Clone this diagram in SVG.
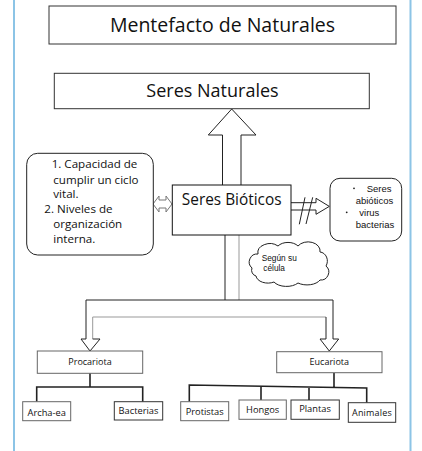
<svg xmlns="http://www.w3.org/2000/svg" width="422" height="451" viewBox="0 0 422 451">
<style>
.box{fill:#fff;stroke:#333;stroke-width:1}
.gbox{fill:#fff;stroke:#666;stroke-width:1}
.t{font-family:"Open Sans","Noto Sans",sans-serif;fill:#111}
.a{font-family:"Liberation Sans",Arial,sans-serif;fill:#111}
.ln{stroke:#222;stroke-width:1;fill:none}
.gl{stroke:#999;stroke-width:1;fill:none}
.tree{stroke:#222;stroke-width:1.6;fill:none}
.blk{fill:#fff;stroke:#222;stroke-width:1}
</style>
<rect width="422" height="451" fill="#fff"/>
<line x1="14" y1="0" x2="14" y2="451" stroke="#8cc4e6" stroke-width="2"/>
<line x1="410.5" y1="0" x2="410.5" y2="451" stroke="#8cc4e6" stroke-width="2"/>

<g id="connectors">
  <!-- up arrow -->
  <path class="blk" d="M222.5,185 V135 H208.3 L231.7,109 L256,135 H241 V185"/>
  <!-- double arrow left -->
  <path d="M153,204 L159,196 V200 H166 V196 L172,204 L166,212 V208 H159 V212 Z" fill="#fff" stroke="#777" stroke-width="1"/>
  <!-- crossed arrow right -->
  <path class="blk" d="M291,202.7 H316 V198.3 L329.3,206.4 L316,214.3 V210 H291"/>
  <line class="ln" x1="299.3" y1="224.3" x2="305" y2="197.3" stroke-width="1.3"/>
  <line class="ln" x1="306" y1="224" x2="312.7" y2="197.3" stroke-width="1.3"/>
  <!-- stem down -->
  <line class="ln" x1="225" y1="235" x2="225" y2="300"/>
  <line class="gl" x1="239" y1="235" x2="239" y2="300"/>
  <!-- bar -->
  <path class="ln" d="M86,339 V300 H333 V339"/>
  <line class="gl" x1="92.7" y1="317" x2="326" y2="317"/>
  <line class="gl" x1="92.7" y1="317" x2="92.7" y2="339"/>
  <line class="ln" x1="326" y1="317" x2="326" y2="339"/>
  <!-- left head -->
  <path class="blk" d="M86,339 H81 L90,351 L100,339 H92.7"/>
  <!-- right head -->
  <path class="blk" d="M326,339 H320 L329.3,351 L338.7,339 H333"/>
  <!-- procariota tree -->
  <path class="tree" d="M90,373 V387 M36.7,401.7 V387 H142.7 V401.7"/>
  <!-- eucariota tree -->
  <path class="tree" d="M334,373 V387.5 M189.3,401.7 V385 L366.7,388 V402.7 M261,386.2 V400 M309,387 V400"/>
</g>

<g id="title">
  <rect class="box" x="49" y="6" width="347" height="38"/>
  <text class="t" x="222.5" y="31.5" font-size="19.5" text-anchor="middle">Mentefacto de Naturales</text>
</g>

<g id="seres-naturales">
  <rect class="box" x="54.3" y="73.3" width="315" height="35.4"/>
  <text class="t" x="212.5" y="96.5" font-size="18" text-anchor="middle">Seres Naturales</text>
</g>

<g id="seres-bioticos">
  <rect fill="#fff" stroke="#111" stroke-width="1" x="172.3" y="185" width="118.7" height="50"/>
  <text class="t" x="231.7" y="205" font-size="15.4" text-anchor="middle">Seres Bióticos</text>
</g>

<g id="caracteristicas">
  <rect fill="#fff" stroke="#222" stroke-width="1" x="26.7" y="153.3" width="126.6" height="101.7" rx="11"/>
  <text class="t" font-size="11.6">
    <tspan x="51.7" y="168.3">1. Capacidad de</tspan>
    <tspan x="53.3" y="184">cumplir un ciclo</tspan>
    <tspan x="53.3" y="198.3">vital.</tspan>
    <tspan x="44.3" y="213.3">2. Niveles de</tspan>
    <tspan x="53.3" y="228.3">organización</tspan>
    <tspan x="53.3" y="243.3">interna.</tspan>
  </text>
</g>

<g id="abioticos">
  <rect fill="#fff" stroke="#222" stroke-width="1" x="330" y="178.3" width="71.7" height="62.7" rx="10"/>
  <circle cx="354" cy="188.3" r="0.9" fill="#222"/>
  <circle cx="346.7" cy="212.3" r="0.9" fill="#222"/>
  <text class="a" font-size="9.5">
    <tspan x="366.7" y="191.7">Seres</tspan>
    <tspan x="355.7" y="204">abióticos</tspan>
    <tspan x="359.3" y="216">virus</tspan>
    <tspan x="355.7" y="228.3">bacterias</tspan>
  </text>
</g>

<g id="segun-celula">
  <path d="M252,268 a8,8 0 0,1 6,-14 a12,9 0 0,1 20,-8 a12,8 0 0,1 20,0 a12,9 0 0,1 22,6 a8,9 0 0,1 6,14 a8,8 0 0,1 -6,14 a14,8 0 0,1 -22,3 a14,8 0 0,1 -24,-1 a12,8 0 0,1 -18,-6 a6,6 0 0,1 -4,-8 Z" fill="#fff" stroke="#222" stroke-width="1"/>
  <text class="a" font-size="8.3">
    <tspan x="261.7" y="260.7">Según su</tspan>
    <tspan x="263.3" y="270.7">célula</tspan>
  </text>
</g>

<g id="procariota">
  <rect class="gbox" x="37.3" y="351" width="105.4" height="22.3"/>
  <text class="t" x="90" y="364.8" font-size="9" text-anchor="middle">Procariota</text>
</g>

<g id="eucariota">
  <rect class="gbox" x="276.7" y="351.7" width="105.3" height="21" stroke="#888"/>
  <text class="t" x="329.3" y="364.8" font-size="9" text-anchor="middle">Eucariota</text>
</g>

<g id="archaea">
  <rect class="gbox" x="22.7" y="401.7" width="48" height="19"/>
  <text class="t" x="46.7" y="416" font-size="9.3" text-anchor="middle">Archa-ea</text>
</g>
<g id="bacterias">
  <rect class="box" x="114.3" y="401.7" width="48.4" height="18.3"/>
  <text class="t" x="138.5" y="414.3" font-size="9.3" text-anchor="middle">Bacterias</text>
</g>
<g id="protistas">
  <rect class="gbox" x="180.7" y="401.7" width="48" height="19"/>
  <text class="t" x="204.7" y="415" font-size="9.3" text-anchor="middle">Protistas</text>
</g>
<g id="hongos">
  <rect class="gbox" x="239" y="400" width="47.3" height="19.3"/>
  <text class="t" x="262.7" y="412.7" font-size="9.3" text-anchor="middle">Hongos</text>
</g>
<g id="plantas">
  <rect class="box" x="291" y="400" width="48.3" height="19.3"/>
  <text class="t" x="315" y="412.3" font-size="9.3" text-anchor="middle">Plantas</text>
</g>
<g id="animales">
  <rect class="box" x="348.3" y="402.7" width="47.4" height="19.6"/>
  <text class="t" x="372" y="416" font-size="9" text-anchor="middle" letter-spacing="0.2">Animales</text>
</g>
</svg>
